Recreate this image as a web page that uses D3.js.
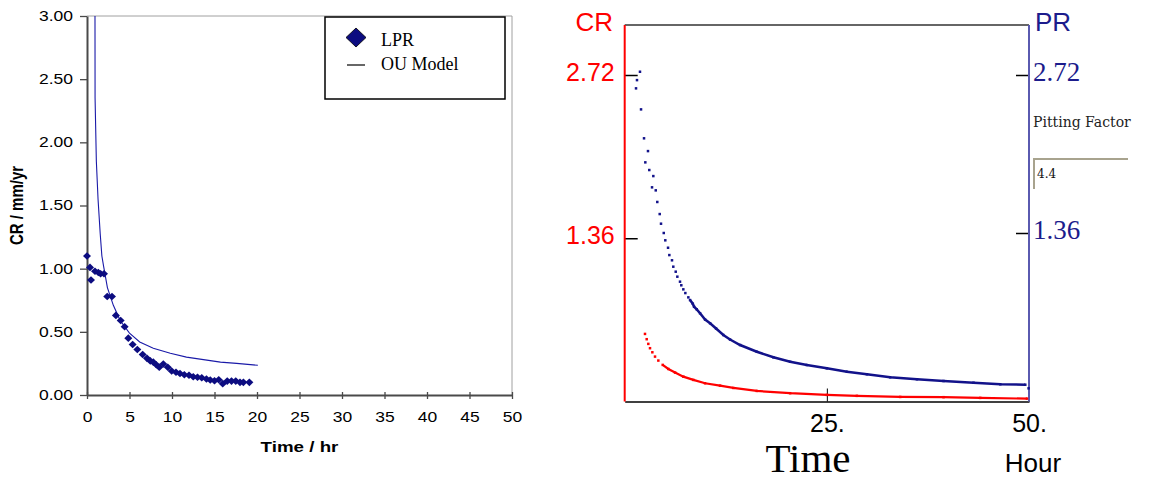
<!DOCTYPE html>
<html>
<head>
<meta charset="utf-8">
<script src="https://cdn.jsdelivr.net/npm/d3@7"></script>
<style>
  body { margin: 0; background: #fff; }
  svg { display: block; }
</style>
</head>
<body>
<svg></svg>
<script>
// ---- left chart: LPR readings against the OU model ----
const lprTime = [0, 0.35, 0.47, 0.94, 1.33, 1.6, 2.0, 2.38, 2.94, 3.4, 3.96, 4.43, 4.86, 5.37, 5.92, 6.55, 7.06, 7.45, 7.8, 8.15,
  8.5, 8.98, 9.5, 9.96, 10.47, 10.94, 11.45, 12.0, 12.5, 13.0, 13.5, 14.05, 14.5, 15.0, 15.5, 15.97, 16.5, 17.0, 17.5, 18.0, 18.4, 19.1];
const lprRate = [1.10, 1.01, 0.91, 0.98, 0.97, 0.96, 0.96, 0.78, 0.78, 0.63, 0.59, 0.54, 0.45, 0.40, 0.36, 0.32, 0.29, 0.27, 0.26, 0.24,
  0.22, 0.245, 0.22, 0.19, 0.18, 0.17, 0.16, 0.156, 0.145, 0.14, 0.137, 0.127, 0.119, 0.113, 0.121, 0.09, 0.11, 0.11, 0.11, 0.10, 0.10, 0.10];
const ouTime = [0.94, 0.95, 1.1, 1.3, 1.55, 1.75, 1.95, 2.4, 3.1, 3.9, 5.0, 6.2, 7.8, 9.8, 11.7, 13.7, 15.7, 17.6, 20.1];
const ouRate = [3.00, 2.35, 1.85, 1.55, 1.28, 1.10, 1.02, 0.85, 0.71, 0.59, 0.49, 0.42, 0.37, 0.33, 0.30, 0.28, 0.26, 0.25, 0.235];
const leftYTicks = [0, 0.5, 1.0, 1.5, 2.0, 2.5, 3.0];
const leftXTicks = [0, 5, 10, 15, 20, 25, 30, 35, 40, 45, 50];
const legendLabels = ["LPR", "OU Model"];

// ---- right chart: CR (red) and PR (blue) against time ----
const crTime = [2.51, 2.72, 2.92, 3.13, 3.42, 3.75, 4.16, 4.70, 5.40, 6.23, 7.25, 8.49, 9.94, 11.79, 13.44, 16.34, 20.46, 25.0, 28.71, 34.07, 39.43, 43.97, 49.75];
const crRate = [0.563, 0.519, 0.480, 0.444, 0.410, 0.374, 0.341, 0.305, 0.271, 0.241, 0.207, 0.180, 0.152, 0.132, 0.113, 0.088, 0.069, 0.055, 0.047, 0.038, 0.036, 0.030, 0.024];
const prTime = [1.89, 1.52, 1.40, 2.02, 2.39, 2.88, 2.55, 3.04, 3.54, 3.38, 3.84, 4.03, 4.33, 4.49, 4.83, 5.02, 5.36, 5.52, 5.85, 6.01,
  6.31, 6.51, 6.84, 7.00, 7.25, 7.50, 7.87, 8.08, 8.42, 8.58, 8.91, 9.32, 9.94, 10.56, 11.30, 12.20, 13.03, 14.27, 16.34, 18.39,
  20.46, 22.52, 25.0, 27.48, 29.95, 32.83, 36.14, 39.43, 43.14, 46.45, 49.54, 49.95];
const prRate = [2.748, 2.676, 2.605, 2.424, 2.175, 2.065, 1.968, 1.902, 1.850, 1.753, 1.727, 1.627, 1.523, 1.440, 1.360, 1.297, 1.233, 1.170, 1.125, 1.070,
  1.027, 0.984, 0.941, 0.910, 0.875, 0.843, 0.806, 0.783, 0.751, 0.725, 0.703, 0.669, 0.615, 0.583, 0.538, 0.482, 0.443, 0.396, 0.338, 0.290,
  0.252, 0.224, 0.195, 0.166, 0.144, 0.118, 0.101, 0.086, 0.071, 0.058, 0.054, 0.023];
const crTicks = [1.36, 2.72];
const prTicks = [1.36, 2.72];
const hourTicks = [25, 50];
const pittingFactor = "4.4";

const width = 1163, height = 483;
const sans = "'Liberation Sans', Arial, sans-serif";
const serif = "'Liberation Serif', 'Times New Roman', serif";
const navy = "#0c0c80";

const svg = d3.select("svg").attr("width", width).attr("height", height);

// left chart text is a bit wider than tall in the original, stretch it
function stretch(sel, k) {
  sel.each(function () {
    const t = d3.select(this);
    const x = +t.attr("x") || 0, y = +t.attr("y") || 0;
    t.attr("x", 0).attr("y", 0).attr("transform", `translate(${x},${y}) scale(${k},1)`);
  });
}

// ================= LEFT =================
const x1 = d3.scaleLinear().domain([0, 50]).range([87, 512]);
const y1 = d3.scaleLinear().domain([0, 3]).range([395, 16]);

const left = svg.append("g");

// light frame on top and right
left.append("path")
  .attr("d", `M${x1(0)},${y1(3)}H${x1(50)}V${y1(0)}`)
  .attr("fill", "none").attr("stroke", "#a0a0a0").attr("stroke-width", 1);

const yAx1 = left.append("g")
  .attr("transform", `translate(${x1(0)},0)`)
  .call(d3.axisLeft(y1).tickValues(leftYTicks).tickFormat(d3.format(".2f")).tickSize(7).tickPadding(7).tickSizeOuter(0));

const xAx1 = left.append("g")
  .attr("transform", `translate(0,${y1(0)})`)
  .call(d3.axisBottom(x1).tickValues(leftXTicks).tickSize(4).tickPadding(13).tickSizeOuter(0));
xAx1.selectAll(".tick line").attr("y1", -3);

[yAx1, xAx1].forEach(ax => {
  ax.select(".domain").attr("stroke", "#4a4a4a").attr("stroke-width", 2);
  ax.selectAll(".tick line").attr("stroke", "#4a4a4a").attr("stroke-width", 1.3);
  ax.selectAll("text").attr("font-family", sans).attr("font-size", 14).attr("fill", "#000");
  stretch(ax.selectAll("text"), 1.25);
});

left.append("text")
  .attr("transform", `translate(${x1(25)},452) scale(1.25,1)`)
  .attr("text-anchor", "middle")
  .attr("font-family", sans).attr("font-size", 15).attr("font-weight", "bold")
  .text("Time / hr");

left.append("text")
  .attr("transform", `translate(23,${(y1(0) + y1(3)) / 2}) scale(1.25,1) rotate(-90)`)
  .attr("text-anchor", "middle")
  .attr("font-family", sans).attr("font-size", 15).attr("font-weight", "bold")
  .text("CR / mm/yr");

// OU model curve
const ouLine = d3.line().x(d => x1(d[0])).y(d => y1(d[1]));
left.append("path")
  .datum(ouTime.map((t, i) => [t, ouRate[i]]))
  .attr("d", ouLine)
  .attr("fill", "none").attr("stroke", "#1a1aa8").attr("stroke-width", 1.1);

// LPR diamonds
const diamond = (rx, ry) => `M0,${-ry}L${rx},0L0,${ry}L${-rx},0Z`;
left.selectAll(".lpr")
  .data(lprTime.map((t, i) => [t, lprRate[i]]))
  .enter().append("path")
  .attr("class", "lpr")
  .attr("transform", d => `translate(${x1(d[0])},${y1(d[1])})`)
  .attr("d", diamond(4, 3.8))
  .attr("fill", navy);

// legend
const lg = left.append("g").attr("transform", "translate(325,17)");
lg.append("rect").attr("width", 180).attr("height", 82)
  .attr("fill", "#fff").attr("stroke", "#000").attr("stroke-width", 1.5);
lg.append("path").attr("transform", "translate(31,20.5)").attr("d", diamond(10, 9.5))
  .attr("fill", navy).attr("stroke", "#000").attr("stroke-width", 0.8);
lg.append("line").attr("x1", 22).attr("x2", 40).attr("y1", 48).attr("y2", 48)
  .attr("stroke", "#000").attr("stroke-width", 1.2);
lg.selectAll(".lgtext").data(legendLabels).enter().append("text")
  .attr("x", 56).attr("y", (d, i) => 29 + i * 24)
  .attr("font-family", serif).attr("font-size", 18).attr("fill", "#000")
  .text(d => d);

// ================= RIGHT =================
const xR = d3.scaleLinear().domain([0, 50]).range([624.7, 1029]);
const yCR = d3.scaleLinear().domain([0, 2.72]).range([401.5, 75]);
const yPR = d3.scaleLinear().domain([0, 2.72]).range([391, 75]);
const topY = 25;

const right = svg.append("g");

right.append("line").attr("x1", xR(0)).attr("x2", xR(50)).attr("y1", topY).attr("y2", topY)
  .attr("stroke", "#333").attr("stroke-width", 1.5);

const bx = right.append("g")
  .attr("transform", `translate(0,${yCR(0)})`)
  .call(d3.axisBottom(xR).tickValues(hourTicks).tickFormat(d => d + ".").tickSize(-13).tickPadding(13).tickSizeOuter(0));
bx.select(".domain").attr("stroke", "#000").attr("stroke-width", 1.5);
bx.selectAll(".tick line").attr("stroke", "#000");
bx.selectAll("text").attr("font-family", sans).attr("font-size", 25).attr("fill", "#000");

const ly = right.append("g")
  .attr("transform", `translate(${xR(0)},0)`)
  .call(d3.axisLeft(yCR).tickValues(crTicks).tickFormat(d => d.toFixed(2)).tickSize(-13).tickPadding(10).tickSizeOuter(0));
ly.select(".domain").remove();
ly.selectAll(".tick line").attr("stroke", "#000").attr("stroke-width", 1.5);
ly.selectAll("text").attr("font-family", sans).attr("font-size", 25).attr("fill", "#ff0000").attr("dy", "0.22em");

const ry = right.append("g")
  .attr("transform", `translate(${xR(50)},0)`)
  .call(d3.axisRight(yPR).tickValues(prTicks).tickFormat(d => d.toFixed(2)).tickSize(-13).tickPadding(4).tickSizeOuter(0));
ry.select(".domain").remove();
ry.selectAll(".tick line").attr("stroke", "#000").attr("stroke-width", 1.5);
ry.selectAll("text").attr("font-family", serif).attr("font-size", 27).attr("fill", "#1c1c8c").attr("dy", "0.2em");

// side lines
right.append("line").attr("x1", xR(0)).attr("x2", xR(0)).attr("y1", topY).attr("y2", yCR(0))
  .attr("stroke", "#ff0000").attr("stroke-width", 2);
right.append("line").attr("x1", xR(50)).attr("x2", xR(50)).attr("y1", topY).attr("y2", yCR(0))
  .attr("stroke", "#5a5ab0").attr("stroke-width", 2);

// axis names
right.append("text").attr("x", 613).attr("y", 31).attr("text-anchor", "end")
  .attr("font-family", sans).attr("font-size", 26).attr("fill", "#ff0000").text("CR");
right.append("text").attr("x", 1035).attr("y", 31)
  .attr("font-family", sans).attr("font-size", 26).attr("fill", "#1c1c8c").text("PR");
right.append("text").attr("x", 808).attr("y", 472).attr("text-anchor", "middle")
  .attr("font-family", serif).attr("font-size", 41).attr("fill", "#000").text("Time");
right.append("text").attr("x", 1033).attr("y", 472).attr("text-anchor", "middle")
  .attr("font-family", sans).attr("font-size", 26).attr("fill", "#000").text("Hour");

// pitting factor field
right.append("text").attr("x", 1033).attr("y", 127)
  .attr("font-family", "'DejaVu Serif', serif").attr("font-size", 14).attr("fill", "#222").text("Pitting Factor");
right.append("path").attr("d", "M1034,189V159H1128")
  .attr("fill", "none").attr("stroke", "#a8a38e").attr("stroke-width", 2);
right.append("text").attr("x", 1037).attr("y", 178)
  .attr("font-family", "'DejaVu Serif', serif").attr("font-size", 12).attr("fill", "#111").text(pittingFactor);

// data: dotted start, dense tail drawn as a thick trace
function series(times, vals, yScale, color, tailFrom, tailEnd, w) {
  const pts = times.map((t, i) => [t, vals[i]]);
  right.append("path")
    .datum(pts.slice(tailFrom, tailEnd))
    .attr("d", d3.line().x(d => xR(d[0])).y(d => yScale(d[1])))
    .attr("fill", "none").attr("stroke", color).attr("stroke-width", w);
  right.selectAll(null).data(pts).enter().append("rect")
    .attr("x", d => xR(d[0]) - 1.25).attr("y", d => yScale(d[1]) - 1.25)
    .attr("width", 2.5).attr("height", 2.5).attr("fill", color);
}
series(crTime, crRate, yCR, "#ff0000", 7, crTime.length, 2.2);
series(prTime, prRate, yPR, "#12128a", 27, prTime.length - 1, 2.5);
</script>
</body>
</html>
